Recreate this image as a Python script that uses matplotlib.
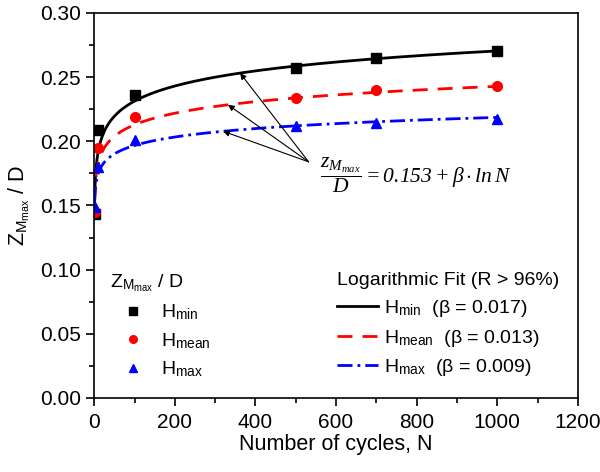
import numpy as np
import matplotlib.pyplot as plt
from matplotlib.lines import Line2D

plt.rcParams['font.family'] = ['Liberation Sans', 'DejaVu Sans']
# math font only used by the fit equation (Times-like italic)
plt.rcParams['mathtext.fontset'] = 'custom'
plt.rcParams['mathtext.rm'] = 'Liberation Serif:italic'
plt.rcParams['mathtext.it'] = 'Liberation Serif:italic'

# measured points
N = [1, 10, 100, 500, 700, 1000]
h_min = [0.143, 0.209, 0.236, 0.257, 0.265, 0.270]
h_mean = [0.145, 0.195, 0.219, 0.234, 0.240, 0.243]
h_max = [0.149, 0.180, 0.201, 0.212, 0.214, 0.217]

# log fit: z/D = a + beta*ln N
intercept = 0.153
beta_labels = ["0.017", "0.013", "0.009"]
beta_fit = [0.017, 0.013, 0.0095]

fig = plt.figure(figsize=(6, 4.72), dpi=100)
ax = fig.add_axes([0.157, 0.157, 0.806, 0.8155])

n_fit = np.linspace(1, 1000, 2000)
styles = [dict(color='black', ls='-'),
          dict(color='red', ls=(0, (5.4, 3.6))),
          dict(color='blue', ls=(0, (5.4, 1.8, 1, 1.8)))]
for b, st in zip(beta_fit, styles):
    ax.plot(n_fit, intercept + b * np.log(n_fit), lw=2, **st)

ax.plot(N, h_min, 's', color='black', ms=7, ls='none')
ax.plot(N, h_mean, 'o', color='red', ms=7, ls='none')
ax.plot(N, h_max, '^', color='blue', ms=7, ls='none')

# arrows from the equation to each curve
tail = (532, 0.184)
for xh, b in zip([362, 332, 320], beta_fit):
    ax.annotate('', xy=(xh, intercept + b * np.log(xh)), xytext=tail,
                arrowprops=dict(arrowstyle='-|>', color='black', lw=0.8,
                                mutation_scale=9, shrinkA=0, shrinkB=0))
ax.text(560, 0.1735,
        r'$\dfrac{z_{M_{max}}}{D} = 0.153 + \beta \cdot ln\,N$',
        fontsize=15.5, va='center', ha='left')

ax.set_xlim(0, 1200)
ax.set_ylim(0, 0.30)
ax.set_xticks(np.arange(0, 1201, 200))
ax.set_xticks(np.arange(0, 1201, 100), minor=True)
ax.set_yticks(np.arange(0, 0.301, 0.05))
ax.set_yticks(np.arange(0, 0.301, 0.025), minor=True)
ax.yaxis.set_major_formatter(plt.FormatStrFormatter('%.2f'))
ax.tick_params(which='both', direction='out', labelsize=15, width=1.2)
ax.tick_params(which='major', length=6)
ax.tick_params(which='minor', length=3.5)
ax.tick_params(axis='x', pad=5)
for s in ax.spines.values():
    s.set_linewidth(1.2)

ax.set_xlabel('Number of cycles, N', fontsize=15.5, labelpad=1)
ax.set_ylabel(r'Z$_{\mathregular{M_{max}}}$ / D', fontsize=15.5, labelpad=6)

h1 = [Line2D([], [], marker='s', color='black', ls='none', ms=5.5),
      Line2D([], [], marker='o', color='red', ls='none', ms=5.5),
      Line2D([], [], marker='^', color='blue', ls='none', ms=5.5)]
lab1 = [r'H$_{\mathregular{min}}$', r'H$_{\mathregular{mean}}$', r'H$_{\mathregular{max}}$']
leg1 = ax.legend(h1, lab1, title=r'Z$_{\mathregular{M_{max}}}$ / D', loc='upper left',
                 bbox_to_anchor=(0.033, 0.327), frameon=False, fontsize=14,
                 title_fontsize=14, alignment='left', borderpad=0,
                 borderaxespad=0, handlelength=2.3, handletextpad=0.3,
                 labelspacing=0.45, numpoints=1)
ax.add_artist(leg1)

h2 = [Line2D([], [], lw=2, **st) for st in styles]
lab2 = [r'H$_{\mathregular{min}}$  (β = %s)' % beta_labels[0],
        r'H$_{\mathregular{mean}}$  (β = %s)' % beta_labels[1],
        r'H$_{\mathregular{max}}$  (β = %s)' % beta_labels[2]]
ax.legend(h2, lab2, title='Logarithmic Fit (R > 96%)', loc='upper left',
          bbox_to_anchor=(0.502, 0.327), frameon=False, fontsize=14,
          title_fontsize=14, alignment='left', borderpad=0,
          borderaxespad=0, handlelength=2.1, handletextpad=0.3,
          labelspacing=0.45)

fig.savefig('out.png', dpi=100)
